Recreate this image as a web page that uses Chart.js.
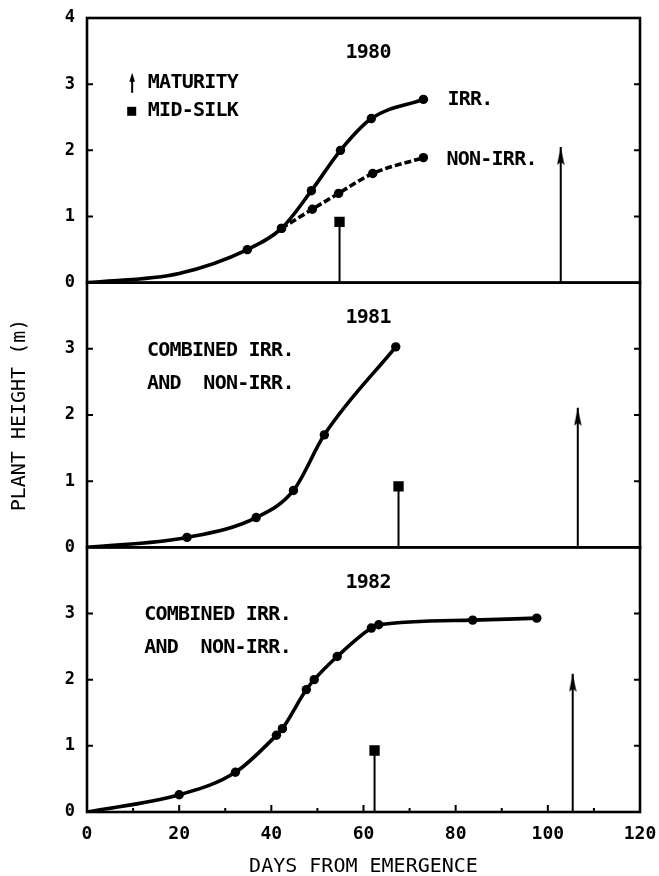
<!DOCTYPE html>
<html><head><meta charset="utf-8">
<script src="https://cdn.jsdelivr.net/npm/chart.js@4.4.1/dist/chart.umd.min.js"></script>
<style>html,body{margin:0;padding:0;background:#fff;}canvas{display:block;}</style>
</head><body>
<canvas id="c" width="659" height="876"></canvas>
<script>
// ---------- data ----------
const xTickLabels = [0, 20, 40, 60, 80, 100, 120];
const yTickLabels = [0, 1, 2, 3, 4];
const years = ['1980', '1981', '1982'];

// 1980 (first points of IRR curve are curve-only, no marker)
const days1980Irr    = [0, 20, 34.8, 42.2, 48.7, 55.0, 61.7, 73.0];
const height1980Irr  = [0, 0.14, 0.50, 0.82, 1.39, 2.00, 2.48, 2.77];
const curveOnly1980  = 2;
const days1980NonIrr   = [42.2, 48.9, 54.6, 62.0, 73.0];
const height1980NonIrr = [0.82, 1.11, 1.35, 1.65, 1.89];
// 1981 combined
const days1981   = [0, 21.7, 36.7, 44.8, 51.5, 67.0];
const height1981 = [0, 0.15, 0.45, 0.86, 1.70, 3.03];
const curveOnly1981 = 1;
// 1982 combined
const days1982   = [0, 20.0, 32.2, 41.1, 42.4, 47.6, 49.3, 54.3, 61.7, 63.3, 83.7, 97.6];
const height1982 = [0, 0.26, 0.60, 1.16, 1.26, 1.85, 2.00, 2.35, 2.78, 2.83, 2.90, 2.93];
const curveOnly1982 = 1;
// phenology markers (1980, 1981, 1982)
const midSilkDay    = [54.8, 67.6, 62.4];
const midSilkHeight = [0.92, 0.92, 0.93];
const maturityDay    = [102.8, 106.5, 105.4];
const maturityHeight = [2.05, 2.11, 2.09];

// ---------- styling ----------
const FAM = 'DejaVu Sans Mono';
const BLACK = '#000';
const panelAxes = ['y80', 'y81', 'y82'];

function pts(xs, ys) { return xs.map((x, i) => ({x: x, y: ys[i]})); }

// arrowhead image, tip at the image centre
function makeArrow(w, len) {
  const c = document.createElement('canvas');
  c.width = w; c.height = len * 2 + 2;
  const g = c.getContext('2d');
  const cx = w / 2, tip = len + 1;
  g.fillStyle = BLACK;
  g.beginPath();
  g.moveTo(cx, tip);
  g.lineTo(w - 0.3, tip + len);
  g.lineTo(cx, tip + len - 3);
  g.lineTo(0.3, tip + len);
  g.closePath();
  g.fill();
  return c;
}
const arrowHead = makeArrow(8, 18);

function curveSet(xs, ys, axis, curveOnly, dash) {
  return {
    data: pts(xs, ys), xAxisID: 'x', yAxisID: axis,
    borderColor: BLACK, borderWidth: 3.6, borderDash: dash || [],
    cubicInterpolationMode: 'monotone',
    pointRadius: c => c.dataIndex < curveOnly ? 0 : 4.7,
    pointBackgroundColor: BLACK, pointBorderWidth: 0, pointBorderColor: BLACK
  };
}

const datasets = [
  curveSet(days1980Irr, height1980Irr, 'y80', curveOnly1980),
  curveSet(days1980NonIrr, height1980NonIrr, 'y80', 0, [7, 3]),
  curveSet(days1981, height1981, 'y81', curveOnly1981),
  curveSet(days1982, height1982, 'y82', curveOnly1982)
];
panelAxes.forEach((ax, i) => {
  datasets.push({
    data: [{x: midSilkDay[i], y: 0}, {x: midSilkDay[i], y: midSilkHeight[i]}],
    xAxisID: 'x', yAxisID: ax, borderColor: BLACK, borderWidth: 2,
    pointStyle: 'rect', pointRadius: [0, 7.3], pointBackgroundColor: BLACK, pointBorderWidth: 0
  });
  datasets.push({
    data: [{x: maturityDay[i], y: 0}, {x: maturityDay[i], y: maturityHeight[i]}],
    xAxisID: 'x', yAxisID: ax, borderColor: BLACK, borderWidth: 2,
    pointStyle: arrowHead, pointRadius: [0, 6], pointBackgroundColor: BLACK, pointBorderWidth: 0
  });
});

// text annotations (placed in data coordinates of each panel)
const notes = [
  {axis: 'y80', x: 61.0, y: 3.48, text: years[0], align: 'center'},
  {axis: 'y81', x: 61.0, y: 3.47, text: years[1], align: 'center'},
  {axis: 'y82', x: 61.0, y: 3.47, text: years[2], align: 'center'},
  {axis: 'y81', x: 13.0, y: 2.97, text: 'COMBINED IRR.', align: 'left'},
  {axis: 'y81', x: 13.0, y: 2.47, text: 'AND  NON-IRR.', align: 'left'},
  {axis: 'y82', x: 12.4, y: 2.98, text: 'COMBINED IRR.', align: 'left'},
  {axis: 'y82', x: 12.4, y: 2.48, text: 'AND  NON-IRR.', align: 'left'},
  {axis: 'y80', x: 13.2, y: 3.02, text: 'MATURITY', align: 'left'},
  {axis: 'y80', x: 13.2, y: 2.59, text: 'MID-SILK', align: 'left'}
];
const endLabels = [
  {dataset: 0, dx: 24, dy: 0, text: 'IRR.'},
  {dataset: 1, dx: 23, dy: 2, text: 'NON-IRR.'}
];
const legendKeys = {axis: 'y80', arrow: {x: 9.8, y: 3.02}, square: {x: 9.7, y: 2.59}};

const decorPlugin = {
  id: 'decor',
  afterDatasetsDraw(chart) {
    const ctx = chart.ctx, ca = chart.chartArea, xs = chart.scales.x;
    ctx.save();
    ctx.strokeStyle = BLACK; ctx.fillStyle = BLACK;
    // panel frames and inward ticks
    panelAxes.forEach(ax => {
      const s = chart.scales[ax];
      ctx.lineWidth = 2.6;
      ctx.strokeRect(ca.left, s.top, ca.right - ca.left, s.bottom - s.top);
      ctx.lineWidth = 2;
      s.ticks.forEach(t => {
        if (t.value <= 0 || t.value >= 4) return;
        const py = s.getPixelForValue(t.value);
        const len = Number.isInteger(t.value) ? 6 : 3.5;
        ctx.beginPath();
        ctx.moveTo(ca.left, py); ctx.lineTo(ca.left + len, py);
        ctx.moveTo(ca.right - len, py); ctx.lineTo(ca.right, py);
        ctx.stroke();
      });
    });
    xs.ticks.forEach(t => {
      if (t.value <= 0 || t.value >= 120) return;
      const px = xs.getPixelForValue(t.value);
      const len = xTickLabels.includes(t.value) ? 7 : 4;
      ctx.beginPath();
      ctx.moveTo(px, ca.bottom); ctx.lineTo(px, ca.bottom - len);
      ctx.stroke();
    });
    // texts
    ctx.font = 'bold 20px "' + FAM + '"';
    ctx.textBaseline = 'middle';
    if ('letterSpacing' in ctx) ctx.letterSpacing = '-0.75px';
    notes.forEach(n => {
      const s = chart.scales[n.axis];
      ctx.textAlign = n.align;
      ctx.fillText(n.text, xs.getPixelForValue(n.x), s.getPixelForValue(n.y));
    });
    endLabels.forEach(l => {
      const meta = chart.getDatasetMeta(l.dataset);
      const p = meta.data[meta.data.length - 1];
      ctx.textAlign = 'left';
      ctx.fillText(l.text, p.x + l.dx, p.y + l.dy);
    });
    // legend keys
    const ls = chart.scales[legendKeys.axis];
    const ax = xs.getPixelForValue(legendKeys.arrow.x), ay = ls.getPixelForValue(legendKeys.arrow.y);
    ctx.lineWidth = 2;
    ctx.beginPath(); ctx.moveTo(ax, ay + 10); ctx.lineTo(ax, ay - 3); ctx.stroke();
    ctx.beginPath(); ctx.moveTo(ax, ay - 10); ctx.lineTo(ax + 2.8, ay - 1); ctx.lineTo(ax - 2.8, ay - 1); ctx.closePath(); ctx.fill();
    const sx = xs.getPixelForValue(legendKeys.square.x), sy = ls.getPixelForValue(legendKeys.square.y);
    ctx.fillRect(sx - 4.5, sy - 4.5, 9, 9);
    ctx.restore();
  }
};

function yScale(isTop, withTitle) {
  return {
    type: 'linear', position: 'left', stack: 'panels', stackWeight: 1,
    min: 0, max: 4,
    afterFit: s => { s.width = 87; s.paddingTop = 0; s.paddingBottom = 0; },
    ticks: {
      stepSize: 0.5, padding: 12, color: BLACK,
      font: {family: FAM, size: 17, weight: 'bold'},
      callback: v => (yTickLabels.includes(v) && (isTop || v < 4)) ? String(v) : ''
    },
    grid: {display: false, drawTicks: false},
    border: {display: false},
    title: {display: withTitle, text: 'PLANT HEIGHT (m)', color: BLACK,
            font: {family: FAM, size: 20}, padding: {top: 8, bottom: 0}}
  };
}

new Chart(document.getElementById('c'), {
  type: 'line',
  data: {datasets: datasets},
  options: {
    responsive: false, animation: false, devicePixelRatio: 1,
    layout: {padding: {left: 0, right: 19, top: 18, bottom: 0}},
    plugins: {legend: {display: false}, tooltip: {enabled: false}},
    scales: {
      x: {
        type: 'linear', position: 'bottom', min: 0, max: 120,
        afterFit: s => { s.height = 64; s.paddingLeft = 0; s.paddingRight = 0; },
        ticks: {stepSize: 10, autoSkip: false, maxRotation: 0, padding: 12, color: BLACK,
                font: {family: FAM, size: 18, weight: 'bold'},
                callback: v => xTickLabels.includes(v) ? String(v) : ''},
        grid: {display: false, drawTicks: false},
        border: {display: false},
        title: {display: true, text: 'DAYS FROM EMERGENCE', color: BLACK,
                font: {family: FAM, size: 20}, padding: {top: 0, bottom: -3}}
      },
      y82: yScale(false, false),
      y81: yScale(false, true),
      y80: yScale(true, false)
    }
  },
  plugins: [decorPlugin]
});
</script>
</body></html>
